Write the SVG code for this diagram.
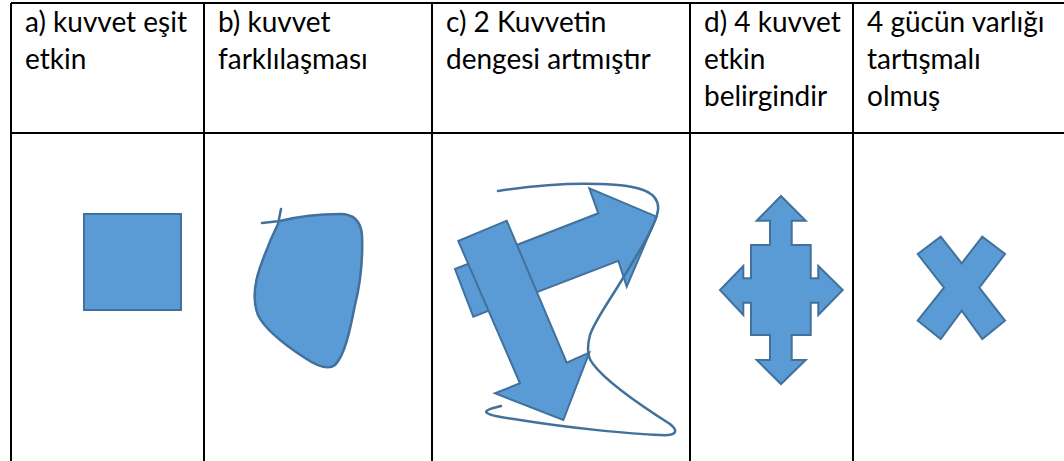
<svg xmlns="http://www.w3.org/2000/svg" width="1064" height="461" viewBox="0 0 1064 461">
<style>
.grid{stroke:#000;stroke-width:2;fill:none}
.t{font-family:Lato,"Noto Sans",sans-serif;font-size:28px;fill:#000}
.sh{fill:#5B9BD5;stroke:#41719C;stroke-width:2;stroke-linejoin:miter}
.ln{fill:none;stroke:#41719C;stroke-width:2.5;stroke-linecap:round}
</style>
<rect width="1064" height="461" fill="#fff"/>
<g id="table">
<path class="grid" d="M11,3H1066 M11,133H1066 M11,3V462 M204,3V462 M432,3V462 M690,3V462 M853,3V462"/>
</g>
<g id="cell-a">
<text class="t" x="25" y="32">a) kuvvet eşit</text>
<text class="t" x="25" y="69">etkin</text>
<rect class="sh" x="84" y="214" width="97" height="96"/>
</g>
<g id="cell-b">
<text class="t" x="218" y="32">b) kuvvet</text>
<text class="t" x="218" y="69">farklılaşması</text>
<path d="M280,221 C300,216 320,214 340,214 C355,214 361,222 362,235 C363,260 360,285 355,305 C350,330 345,355 335,365 C330,369 320,368 305,358 C285,345 265,330 258,315 C252,300 255,280 262,262 C268,245 274,232 279,222 Z" fill="#5B9BD5"/>
<path class="ln" d="M262,223 L280,221 C300,216 320,214 340,214 C355,214 361,222 362,235 C363,260 360,285 355,305 C350,330 345,355 335,365 C330,369 320,368 305,358 C285,345 265,330 258,315 C252,300 255,280 262,262 C268,245 274,232 278,224 L281,209" stroke-width="2"/>
</g>
<g id="cell-c">
<text class="t" x="446" y="32">c) 2 Kuvvetin</text>
<text class="t" x="446" y="69">dengesi artmıştır</text>
<polygon class="sh" points="455,269 598.3,213.3 589.3,188.3 656.7,216.7 626.7,286.7 618.3,260.7 473.3,316.7"/>
<polygon class="sh" points="458.3,241 506.7,220.7 566.7,362.7 589.3,352.7 563.3,420 495,393.3 520,383.3"/>
<path class="ln" d="M498,191 C530,186 570,183 600,184 C640,185 660,192 658,210 C656,225 640,250 623,278 C610,300 595,320 590,335 C586,350 588,358 593,364 C605,380 640,405 670,424 C680,432 675,436 660,435 C630,434 570,428 520,420 C490,416 482,413 488,410 C492,408 497,407 501,406"/>
</g>
<g id="cell-d">
<text class="t" x="704" y="32">d) 4 kuvvet</text>
<text class="t" x="704" y="69">etkin</text>
<text class="t" x="704" y="106">belirgindir</text>
<polygon class="sh" points="781,196 805.7,220.7 791.7,220.7 791.7,245 810.7,245 810.7,278.3 818.3,278.3 818.3,266 842.7,290 818.3,315 818.3,302.7 810.7,302.7 810.7,335 791.7,335 791.7,360 805.7,360 781,384 756.7,360 770,360 770,335 751,335 751,302.7 743.3,302.7 743.3,315 720,290 743.3,266 743.3,278.3 751,278.3 751,245 770,245 770,220.7 756.7,220.7"/>
</g>
<g id="cell-e">
<text class="t" x="867" y="32">4 gücün varlığı</text>
<text class="t" x="867" y="69">tartışmalı</text>
<text class="t" x="867" y="106">olmuş</text>
<polygon class="sh" points="917.7,254 940.7,236.7 961.7,263.3 982.3,236.7 1005,254 979.3,287.7 1005,320.7 982.3,339 961.7,310.7 940.7,339 917.7,320.7 944,287.7"/>
</g>
<g id="connectors"></g>
</svg>
